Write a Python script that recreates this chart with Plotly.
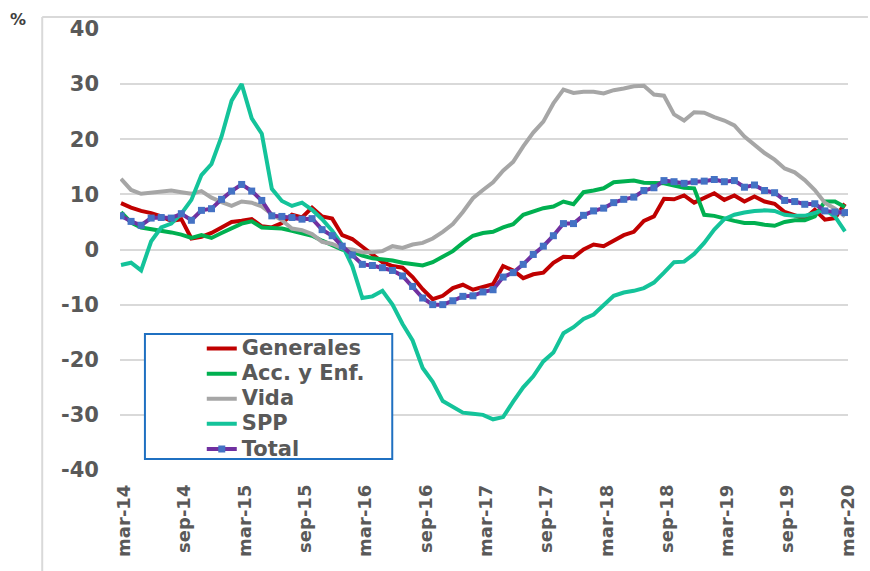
import plotly.graph_objects as go

# ---- data -------------------------------------------------------------
month_names = ["ene", "feb", "mar", "abr", "may", "jun", "jul", "ago", "sep", "oct", "nov", "dic"]
categories = []
for k in range(73):
    m = (2 + k) % 12
    yr = 14 + (2 + k) // 12
    categories.append(f"{month_names[m]}-{yr:02d}")

tick_labels = ["mar-14", "sep-14", "mar-15", "sep-15", "mar-16", "sep-16", "mar-17",
               "sep-17", "mar-18", "sep-18", "mar-19", "sep-19", "mar-20"]

series_names = ["Generales", "Acc. y Enf.", "Vida", "SPP", "Total"]

generales = [8.4, 7.6, 7.0, 6.6, 6.0, 5.2, 5.5, 2.0, 2.3, 3.0, 4.0, 5.0, 5.2, 5.5, 4.2, 4.0,
             4.8, 6.3, 5.8, 7.6, 6.0, 5.6, 2.6, 1.9, 0.5, -0.8, -2.3, -3.0, -3.3, -5.0, -7.2,
             -9.0, -8.4, -7.0, -6.4, -7.3, -6.8, -6.3, -3.0, -3.8, -5.2, -4.5, -4.2, -2.4,
             -1.3, -1.4, 0.0, 0.9, 0.6, 1.5, 2.6, 3.2, 5.2, 6.0, 9.2, 9.1, 9.8, 8.5, 9.3,
             10.2, 9.0, 9.8, 8.7, 9.6, 8.7, 8.3, 6.8, 6.2, 5.6, 7.2, 5.4, 5.7, 8.3]

acc_enf = [6.8, 4.9, 4.0, 3.7, 3.5, 3.1, 2.7, 2.1, 2.6, 2.1, 3.0, 3.8, 4.7, 5.1, 4.0, 3.9,
           3.8, 3.4, 3.0, 2.5, 1.6, 0.7, 0.0, -0.4, -1.1, -1.6, -1.8, -2.0, -2.4, -2.7, -2.9,
           -2.3, -1.4, -0.3, 1.2, 2.5, 3.0, 3.2, 4.0, 4.6, 6.3, 6.9, 7.5, 7.8, 8.7, 8.2,
           10.4, 10.7, 11.1, 12.2, 12.4, 12.5, 12.1, 12.1, 12.0, 11.6, 11.2, 11.1, 6.3, 6.1,
           5.6, 5.2, 4.8, 4.8, 4.5, 4.3, 5.0, 5.3, 5.3, 6.0, 8.7, 8.7, 7.7]

vida = [12.8, 10.8, 10.1, 10.3, 10.5, 10.7, 10.4, 10.1, 10.6, 9.4, 8.6, 7.9, 8.7, 8.5, 7.8,
        6.4, 5.3, 3.8, 3.5, 2.8, 1.4, 1.0, 0.2, 0.0, -0.5, -0.5, -0.3, 0.6, 0.3, 0.9, 1.2,
        2.0, 3.2, 4.6, 6.8, 9.3, 10.8, 12.2, 14.3, 15.9, 18.7, 21.2, 23.2, 26.5, 29.0, 28.4,
        28.6, 28.6, 28.3, 28.9, 29.2, 29.6, 29.7, 28.1, 27.9, 24.5, 23.4, 24.9, 24.8, 24.0,
        23.4, 22.5, 20.5, 19.0, 17.5, 16.3, 14.7, 14.0, 12.6, 10.8, 8.5, 7.4, 6.0]

spp = [-2.8, -2.4, -3.8, 1.5, 4.0, 4.7, 6.5, 9.0, 13.5, 15.5, 20.5, 27.0, 30.0, 23.8, 21.0,
       11.0, 8.8, 7.9, 8.5, 7.2, 5.5, 3.4, 0.8, -3.0, -8.8, -8.5, -7.5, -10.0, -13.5, -16.5,
       -21.5, -24.0, -27.5, -28.6, -29.6, -29.8, -30.0, -30.8, -30.4, -27.6, -25.0, -23.0,
       -20.3, -18.7, -15.2, -14.1, -12.6, -11.8, -10.2, -8.4, -7.8, -7.5, -7.0, -6.0, -4.2,
       -2.3, -2.2, -0.8, 1.2, 3.6, 5.5, 6.3, 6.7, 7.0, 7.1, 7.0, 6.3, 6.1, 6.1, 6.6, 7.2,
       6.0, 3.3]

total = [6.1, 5.1, 4.4, 5.7, 5.8, 5.7, 6.5, 5.3, 7.1, 7.4, 9.1, 10.6, 11.8, 10.6, 8.9, 6.1,
         6.0, 5.8, 5.5, 5.6, 3.6, 2.5, 0.6, -1.0, -2.7, -2.9, -3.3, -3.8, -4.8, -6.7, -8.8,
         -10.0, -10.0, -9.3, -8.5, -8.4, -7.7, -7.3, -5.0, -4.2, -2.7, -0.9, 0.6, 2.5, 4.7,
         4.7, 6.2, 7.0, 7.5, 8.5, 9.1, 9.5, 10.7, 11.2, 12.5, 12.3, 12.0, 12.3, 12.4, 12.7,
         12.3, 12.5, 11.3, 11.7, 10.7, 10.3, 8.9, 8.7, 8.2, 8.3, 7.0, 6.8, 6.7]

y_ticks = [40, 30, 20, 10, 0, -10, -20, -30, -40]

# ---- style ------------------------------------------------------------
TXT = "#595959"
GRID = "#D9D9D9"
FONT = "DejaVu Sans"


def legend_label(name):
    return f"<span style='font-size:21px'>{name}</span>"


fig = go.Figure()
series = [
    (series_names[0], generales, "#C00000"),
    (series_names[1], acc_enf, "#00B050"),
    (series_names[2], vida, "#A6A6A6"),
    (series_names[3], spp, "#14C39A"),
]
for name, vals, col in series:
    fig.add_trace(go.Scatter(x=categories, y=vals, name=legend_label(name), mode="lines",
                             line=dict(color=col, width=4)))
fig.add_trace(go.Scatter(x=categories, y=total, name=legend_label(series_names[4]),
                         mode="lines+markers",
                         line=dict(color="#7030A0", width=4),
                         marker=dict(symbol="square", size=7, color="#4472C4")))

tickvals = [categories[i] for i in range(0, 73, 6)]

fig.update_layout(
    width=870, height=571,
    margin=dict(l=120, r=20, t=29, b=101),
    paper_bgcolor="white", plot_bgcolor="white",
    font=dict(family=FONT, color=TXT),
    showlegend=True,
    legend=dict(x=(202 - 120) / 730, y=(470 - 331) / 441, xanchor="left", yanchor="top",
                bgcolor="rgba(0,0,0,0)", borderwidth=0,
                font=dict(family=FONT, size=17, color=TXT, weight="bold"),
                tracegroupgap=0, itemwidth=30),
    xaxis=dict(type="category", range=[-0.1, 72.3], tickmode="array",
               tickvals=tickvals, ticktext=tick_labels, tickangle=-90,
               tickfont=dict(family=FONT, size=18, color=TXT, weight="bold"),
               showgrid=False, zeroline=False, showline=False, ticks="",
               ticklabelstandoff=10, ticklabelshift=3),
    yaxis=dict(range=[-40, 40], tickvals=y_ticks, ticktext=[str(v) for v in y_ticks],
               tickfont=dict(family=FONT, size=21, color=TXT, weight="bold"),
               showgrid=True, gridcolor=GRID, gridwidth=2, zeroline=False,
               showline=False, ticks="", ticklen=0, ticklabelstandoff=20),
    xaxis2=dict(type="category", overlaying="x", matches="x", anchor="free",
                position=0.2494, range=[-0.1, 72.3], tickmode="array",
                tickvals=tickvals, showticklabels=False, ticks="outside",
                ticklen=4, tickwidth=1.5, tickcolor=GRID, showgrid=False,
                zeroline=False, showline=False),
)

# legend box (white fill, blue border)
fig.add_shape(type="rect", xref="paper", yref="paper",
              x0=(145 - 120) / 730, x1=(393 - 120) / 730,
              y0=(470 - 459) / 441, y1=(470 - 334) / 441,
              line=dict(color="#1F70C1", width=2), fillcolor="white", layer="above")

# outer frame lines of the original chart area
fig.add_shape(type="line", xref="paper", yref="paper",
              x0=(42 - 120) / 730, x1=(42 - 120) / 730, y0=(470 - 571) / 441, y1=(470 - 17) / 441,
              line=dict(color=GRID, width=2))
fig.add_shape(type="line", xref="paper", yref="paper",
              x0=(42 - 120) / 730, x1=(870 - 120) / 730, y0=(470 - 17) / 441, y1=(470 - 17) / 441,
              line=dict(color=GRID, width=2))

fig.add_annotation(text="%", xref="paper", yref="paper",
                   x=(18 - 120) / 730, y=(470 - 20) / 441, showarrow=False,
                   xanchor="center", yanchor="middle",
                   font=dict(family=FONT, size=16, color="#404040", weight="bold"))

fig.write_html("out.html", config={"displayModeBar": False},
               post_script="document.body.style.margin='0';document.body.style.overflow='hidden';")
